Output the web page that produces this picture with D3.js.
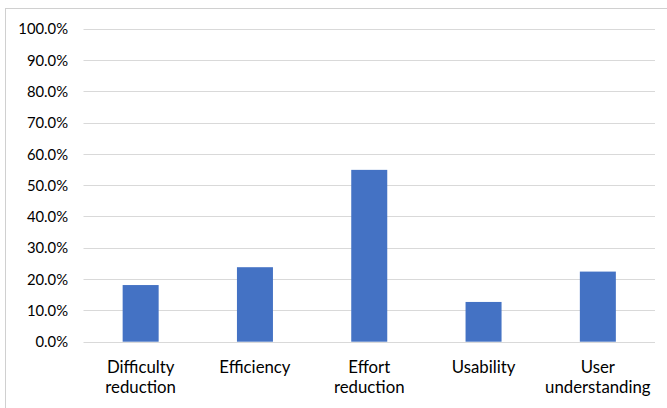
<!DOCTYPE html>
<html>
<head>
<meta charset="utf-8">
<script src="https://cdn.jsdelivr.net/npm/d3@7"></script>
<style>
  html, body { margin: 0; padding: 0; background: #fff; }
  svg { display: block; }
</style>
</head>
<body>
<svg id="chart" width="667" height="408"></svg>
<script>
const categories = [["Difficulty", "reduction"], ["Efficiency"], ["Effort", "reduction"], ["Usability"], ["User", "understanding"]];
const values = [0.181, 0.238, 0.549, 0.127, 0.224];
const yTicks = [0, 0.1, 0.2, 0.3, 0.4, 0.5, 0.6, 0.7, 0.8, 0.9, 1.0];

(function () {
const svg = d3.select("#chart");
const W = 667, H = 408;
const font = "Lato, 'Open Sans', sans-serif";

// outer border (chart area frame)
svg.append("rect")
  .attr("x", 5.5).attr("y", 8.5)
  .attr("width", W + 10).attr("height", H + 10)
  .attr("fill", "#fff").attr("stroke", "#d0d0d0").attr("stroke-width", 1);

const pLeft = 83.5, pRight = 655, pTop = 28.7, pBottom = 341.7;
const labels = categories.map(c => c.join(" "));

const x = d3.scaleBand().domain(labels).range([pLeft, pRight]).paddingInner(0.685).paddingOuter(0.3425);
const y = d3.scaleLinear().domain([0, 1]).range([pBottom, pTop]);

// gridlines
svg.append("g")
  .selectAll("line").data(yTicks).join("line")
  .attr("x1", pLeft).attr("x2", pRight)
  .attr("y1", d => Math.round(y(d)) + 0.5).attr("y2", d => Math.round(y(d)) + 0.5)
  .attr("stroke", "#d9d9d9").attr("stroke-width", 1.2);

// y axis labels
const yAxis = d3.axisLeft(y).tickValues(yTicks).tickFormat(d3.format(".1%")).tickSize(0).tickPadding(0);
const gy = svg.append("g").attr("transform", "translate(68,0)").call(yAxis);
gy.select(".domain").remove();
gy.selectAll("text").attr("font-family", font).attr("font-size", 14.8).attr("fill", "#000").attr("dy", "0.35em");

// bars
svg.append("g")
  .selectAll("rect").data(values).join("rect")
  .attr("x", (d, i) => x(labels[i]))
  .attr("width", x.bandwidth())
  .attr("y", d => y(d))
  .attr("height", d => y(0) - y(d))
  .attr("fill", "#4472c4");

// x labels
const gx = svg.append("g");
categories.forEach((c, i) => {
  const cx = x(labels[i]) + x.bandwidth() / 2;
  const t = gx.append("text")
    .attr("x", cx)
    .attr("text-anchor", "middle")
    .attr("font-family", font).attr("font-size", 16.8).attr("fill", "#000");
  c.forEach((line, j) => {
    t.append("tspan").attr("x", cx).attr("y", 372.5 + j * 20.5).text(line);
  });
});
})();
</script>
</body>
</html>
